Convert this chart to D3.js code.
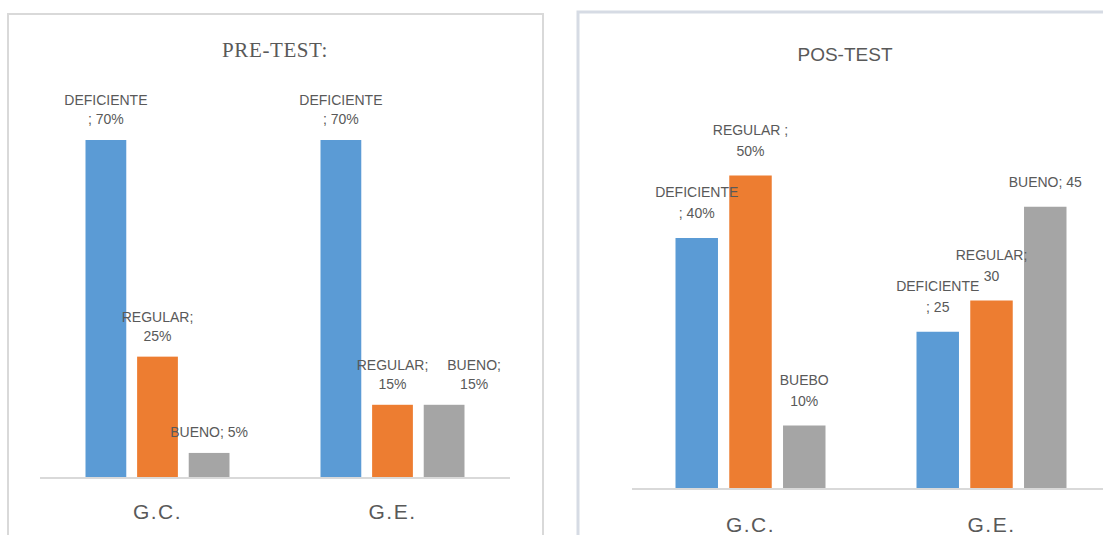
<!DOCTYPE html>
<html>
<head>
    <meta charset="utf-8">
    <title>PRE-TEST / POS-TEST</title>
    <script src="https://d3js.org/d3.v7.min.js"></script>
</head>
<style>
    * { box-sizing: border-box; }
    body { margin: 0; background: #fff; }
    .lbl { fill: #595959; font: 14px "Liberation Sans", Arial, sans-serif; text-anchor: middle; }
    .cat { fill: #595959; font: 21px "Liberation Sans", Arial, sans-serif; text-anchor: middle; letter-spacing: 1.5px; }
</style>
<body>
<svg id="chart" width="1103" height="535"></svg>
<script>
    // categories and series
    var groups = ["G.C.", "G.E."];
    var series = ["DEFICIENTE", "REGULAR", "BUENO"];
    var colors = ["#5b9bd5", "#ed7d31", "#a5a5a5"];

    // PRE-TEST values (%)
    var preGC = [70, 25, 5];
    var preGE = [70, 15, 15];
    var preLabels = [
        [["DEFICIENTE", "; 70%"], ["REGULAR;", "25%"], ["BUENO; 5%"]],
        [["DEFICIENTE", "; 70%"], ["REGULAR;", "15%"], ["BUENO;", "15%"]]
    ];

    // POS-TEST values
    var posGC = [40, 50, 10];
    var posGE = [25, 30, 45];
    var posLabels = [
        [["DEFICIENTE", "; 40%"], ["REGULAR ;", "50%"], ["BUEBO", "10%"]],
        [["DEFICIENTE", "; 25"], ["REGULAR;", "30"], ["BUENO; 45"]]
    ];

    var svg = d3.select("#chart");

    // panel frames
    svg.append("rect").attr("x", 8).attr("y", 14).attr("width", 535).attr("height", 540)
        .attr("fill", "none").attr("stroke", "#d9d9d9").attr("stroke-width", 2);
    svg.append("rect").attr("x", 578).attr("y", 12).attr("width", 540).attr("height", 540)
        .attr("fill", "none").attr("stroke", "#d6dbe4").attr("stroke-width", 3);

    function drawPanel(opt) {
        var x0 = d3.scaleBand().domain(groups).range(opt.xr);
        var x1 = d3.scaleBand().domain(series).range([-opt.span / 2, opt.span / 2]).paddingInner(0.21);
        var y = d3.scaleLinear().domain(opt.yd).range(opt.yr);

        var g = svg.append("g");

        // title
        g.append("text").attr("x", opt.tx).attr("y", opt.ty)
            .attr("text-anchor", "middle")
            .style("font", opt.tfont).style("letter-spacing", opt.tls || "0px")
            .attr("fill", "#595959")
            .text(opt.title);

        // baseline
        g.append("line").attr("x1", opt.ax[0]).attr("x2", opt.ax[1])
            .attr("y1", y(0) + 1).attr("y2", y(0) + 1)
            .attr("stroke", "#d9d9d9").attr("stroke-width", 2);

        var rows = groups.map(function (grp, gi) {
            return { g: grp, vals: opt.data[gi], labels: opt.labels[gi] };
        });

        var grp = g.selectAll("g.grp").data(rows).enter().append("g")
            .attr("class", "grp")
            .attr("transform", function (d) { return "translate(" + (x0(d.g) + x0.bandwidth() / 2) + ",0)"; });

        grp.selectAll("rect").data(function (d) { return d.vals; }).enter().append("rect")
            .attr("x", function (d, i) { return x1(series[i]); })
            .attr("width", x1.bandwidth())
            .attr("y", function (d) { return y(d); })
            .attr("height", function (d) { return y(0) - y(d); })
            .attr("fill", function (d, i) { return colors[i]; });

        grp.each(function (row, gi) {
            var node = d3.select(this);
            row.vals.forEach(function (v, i) {
                var lines = row.labels[i];
                var cx = x1(series[i]) + x1.bandwidth() / 2;
                // the pre-test G.E. "BUENO" label sits off to the right in the original
                if (opt.nudge && gi === 1 && i === 2) cx += opt.nudge;
                var bottom = y(v) - opt.gap;
                var t = node.append("text").attr("class", "lbl");
                lines.forEach(function (s, li) {
                    t.append("tspan").attr("x", cx)
                        .attr("y", bottom - (lines.length - 1 - li) * opt.lh)
                        .text(s);
                });
            });
        });

        // category labels
        g.selectAll("text.cat").data(groups).enter().append("text")
            .attr("class", "cat")
            .attr("x", function (d) { return x0(d) + x0.bandwidth() / 2; })
            .attr("y", opt.cy)
            .text(function (d) { return d; });
    }

    drawPanel({
        title: "PRE-TEST:", tx: 275, ty: 57,
        tfont: '21px "Liberation Serif", "Times New Roman", serif', tls: "0.6px",
        xr: [40, 510], span: 144, ax: [40, 510],
        yd: [0, 70], yr: [477, 140],
        data: [preGC, preGE], labels: preLabels,
        gap: 16, lh: 19, nudge: 30, cy: 519
    });

    drawPanel({
        title: "POS-TEST", tx: 845, ty: 61,
        tfont: '19px "Liberation Sans", Arial, sans-serif',
        xr: [630, 1112], span: 150, ax: [632, 1103],
        yd: [0, 50], yr: [488, 175.5],
        data: [posGC, posGE], labels: posLabels,
        gap: 20, lh: 21, cy: 532
    });
</script>
</body>
</html>
